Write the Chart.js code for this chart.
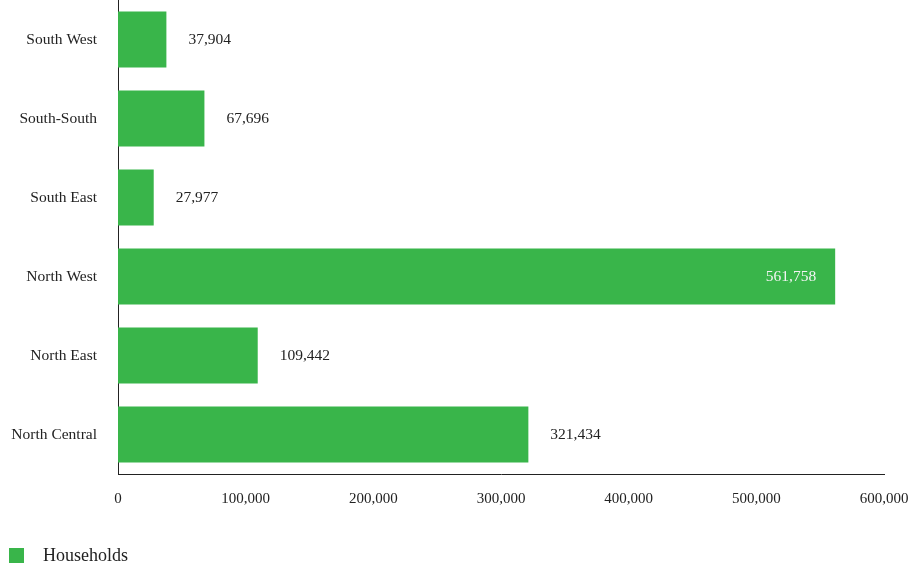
<!DOCTYPE html>
<html>
<head>
<meta charset="utf-8">
<script src="https://cdn.jsdelivr.net/npm/chart.js@4/dist/chart.umd.min.js"></script>
<style>
  html, body { margin: 0; padding: 0; background: #ffffff; }
  #wrap { width: 913px; height: 566px; position: relative; }
</style>
</head>
<body>
<div id="wrap"><canvas id="c" width="913" height="566"></canvas></div>
<script>
const categories = ["South West", "South-South", "South East", "North West", "North East", "North Central"];
const households = [37904, 67696, 27977, 561758, 109442, 321434];
const seriesName = "Households";
const xTicks = [0, 100000, 200000, 300000, 400000, 500000, 600000];

const FONT = "'Liberation Serif', 'Times New Roman', serif";
const GREEN = "#39b54a";
const TEXT = "#222222";

function fmt(v) { return v.toLocaleString("en-US"); }

const valueLabels = {
  id: "valueLabels",
  afterDatasetsDraw(chart) {
    const ctx = chart.ctx;
    const meta = chart.getDatasetMeta(0);
    const area = chart.chartArea;
    ctx.save();
    ctx.font = "15.5px " + FONT;
    ctx.textBaseline = "middle";
    meta.data.forEach((bar, i) => {
      const txt = fmt(chart.data.datasets[0].data[i]);
      const w = ctx.measureText(txt).width;
      const off = 22;
      if (bar.x + off + w > area.right) {
        ctx.fillStyle = "#f4f4f4";
        ctx.textAlign = "right";
        ctx.fillText(txt, bar.x - 19, bar.y);
      } else {
        ctx.fillStyle = TEXT;
        ctx.textAlign = "left";
        ctx.fillText(txt, bar.x + off, bar.y);
      }
    });
    ctx.restore();
  }
};

const bottomLegend = {
  id: "bottomLegend",
  afterDraw(chart) {
    const ctx = chart.ctx;
    const ds = chart.data.datasets[0];
    ctx.save();
    ctx.fillStyle = ds.backgroundColor;
    ctx.fillRect(9, 548, 15, 15);
    ctx.fillStyle = TEXT;
    ctx.font = "18px " + FONT;
    ctx.textAlign = "left";
    ctx.textBaseline = "middle";
    ctx.fillText(ds.label, 43, 556);
    ctx.restore();
  }
};

new Chart(document.getElementById("c"), {
  type: "bar",
  data: {
    labels: categories,
    datasets: [{
      label: seriesName,
      data: households,
      backgroundColor: GREEN,
      borderWidth: 0,
      barPercentage: 0.71,
      categoryPercentage: 1.0
    }]
  },
  options: {
    indexAxis: "y",
    responsive: false,
    animation: false,
    layout: { padding: { left: 0, right: 29, top: 0, bottom: 0 } },
    plugins: {
      legend: { display: false },
      tooltip: { enabled: false }
    },
    scales: {
      x: {
        min: 0,
        max: 600000,
        afterBuildTicks(scale) { scale.ticks = xTicks.map(v => ({ value: v })); },
        afterFit(scale) { scale.height = 92; scale.paddingLeft = 0; scale.paddingRight = 0; },
        grid: { display: false, drawTicks: false },
        border: { display: true, color: TEXT, width: 1 },
        ticks: {
          color: TEXT,
          font: { family: FONT, size: 15 },
          padding: 16,
          maxRotation: 0,
          callback: (v) => fmt(v)
        }
      },
      y: {
        afterFit(scale) { scale.width = 118; scale.paddingTop = 0; scale.paddingBottom = 0; },
        grid: { display: false, drawTicks: false },
        border: { display: true, color: TEXT, width: 1 },
        ticks: {
          color: TEXT,
          font: { family: FONT, size: 15.5 },
          padding: 21
        }
      }
    }
  },
  plugins: [valueLabels, bottomLegend]
});
</script>
</body>
</html>
